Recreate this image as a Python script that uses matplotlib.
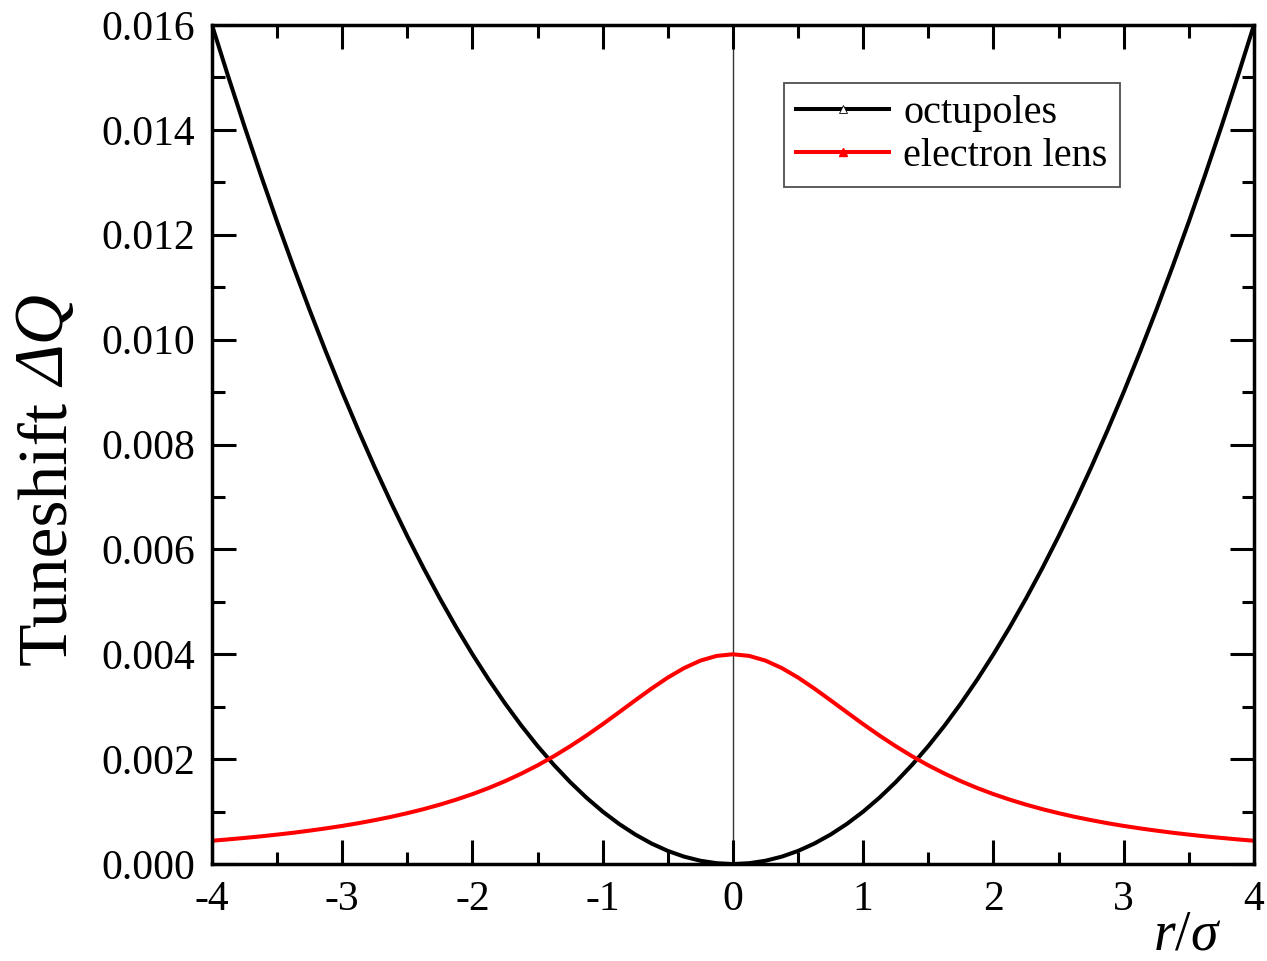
import matplotlib
matplotlib.use('Agg')
import matplotlib.pyplot as plt
from matplotlib.ticker import MultipleLocator, FormatStrFormatter

plt.rcParams['font.family'] = 'Liberation Serif'
plt.rcParams['mathtext.fontset'] = 'custom'
plt.rcParams['mathtext.rm'] = 'Liberation Serif'
plt.rcParams['mathtext.it'] = 'Liberation Serif:italic'

# r/sigma sample points
r = [-4.0, -3.875, -3.75, -3.625, -3.5, -3.375, -3.25, -3.125, -3.0, -2.875,
     -2.75, -2.625, -2.5, -2.375, -2.25, -2.125, -2.0, -1.875, -1.75, -1.625,
     -1.5, -1.375, -1.25, -1.125, -1.0, -0.875, -0.75, -0.625, -0.5, -0.375,
     -0.25, -0.125, 0.0, 0.125, 0.25, 0.375, 0.5, 0.625, 0.75, 0.875, 1.0,
     1.125, 1.25, 1.375, 1.5, 1.625, 1.75, 1.875, 2.0, 2.125, 2.25, 2.375,
     2.5, 2.625, 2.75, 2.875, 3.0, 3.125, 3.25, 3.375, 3.5, 3.625, 3.75,
     3.875, 4.0]

# tuneshift
octupoles = [0.016, 0.015016, 0.014063, 0.013141, 0.01225, 0.011391, 0.010563,
             0.009766, 0.009, 0.008266, 0.007563, 0.006891, 0.00625, 0.005641,
             0.005063, 0.004516, 0.004, 0.003516, 0.003063, 0.002641, 0.00225,
             0.001891, 0.001563, 0.001266, 0.001, 0.000766, 0.000563, 0.000391,
             0.00025, 0.000141, 0.000063, 0.000016, 0.0,
             0.000016, 0.000063, 0.000141, 0.00025, 0.000391, 0.000563,
             0.000766, 0.001, 0.001266, 0.001563, 0.001891, 0.00225, 0.002641,
             0.003063, 0.003516, 0.004, 0.004516, 0.005063, 0.005641, 0.00625,
             0.006891, 0.007563, 0.008266, 0.009, 0.009766, 0.010563, 0.011391,
             0.01225, 0.013141, 0.014063, 0.015016, 0.016]
electron_lens = [0.000444, 0.000470, 0.000498, 0.000528, 0.000561, 0.000597,
                 0.000637, 0.000680, 0.000727, 0.000779, 0.000837, 0.000900,
                 0.000970, 0.001047, 0.001133, 0.001228, 0.001333, 0.001450,
                 0.001580, 0.001724, 0.001882, 0.002056, 0.002246, 0.002450,
                 0.002667, 0.002893, 0.003122, 0.003346, 0.003556, 0.003737,
                 0.003879, 0.003969, 0.004,
                 0.003969, 0.003879, 0.003737, 0.003556, 0.003346, 0.003122,
                 0.002893, 0.002667, 0.002450, 0.002246, 0.002056, 0.001882,
                 0.001724, 0.001580, 0.001450, 0.001333, 0.001228, 0.001133,
                 0.001047, 0.000970, 0.000900, 0.000837, 0.000779, 0.000727,
                 0.000680, 0.000637, 0.000597, 0.000561, 0.000528, 0.000498,
                 0.000470, 0.000444]

W, H = 1267, 961
fig = plt.figure(figsize=(W / 100, H / 100), dpi=100)
ax = fig.add_axes([0.1673, 0.1009, 0.8224, 0.8731])

ax.axvline(0, color='#333333', lw=1.0, zorder=1)
ax.plot(r, octupoles, color='black', lw=2.9, marker='^', markevery=[],
        markersize=6, markerfacecolor='white', markeredgecolor='black',
        markeredgewidth=0.6, label='octupoles')
ax.plot(r, electron_lens, color='red', lw=2.9, marker='^', markevery=[],
        markersize=6, markerfacecolor='red', markeredgecolor='red',
        label='electron lens')

ax.set_xlim(-4, 4)
ax.set_ylim(0, 0.016)
ax.xaxis.set_major_locator(MultipleLocator(1))
ax.xaxis.set_minor_locator(MultipleLocator(0.5))
ax.yaxis.set_major_locator(MultipleLocator(0.002))
ax.yaxis.set_minor_locator(MultipleLocator(0.001))
ax.yaxis.set_major_formatter(FormatStrFormatter('%.3f'))
ax.xaxis.set_major_formatter(FormatStrFormatter('%d'))

ax.tick_params(which='both', direction='in', top=True, right=True,
               width=2.2, labelsize=30)
ax.tick_params(which='major', length=17, pad=12)
ax.tick_params(which='minor', length=9)
for s in ax.spines.values():
    s.set_linewidth(2.5)

# y label in two parts so that the delta can be italic
t1 = fig.text(0.038, 1 - 665 / H, 'Tuneshift', rotation=90, fontsize=50,
              ha='center', va='bottom')
fig.canvas.draw()
bb = t1.get_window_extent()
fig.text(0.038, (bb.y1 + 14) / H, 'ΔQ', rotation=90, fontsize=50,
         style='italic', ha='center', va='bottom')

fig.text(0.910, 0.012, '$\\mathit{r/σ}$', fontsize=40, ha='left',
         va='baseline')

leg = ax.legend(loc='upper right', bbox_to_anchor=(0.871, 0.931),
                fontsize=29, frameon=True, fancybox=False, edgecolor='#222222',
                handlelength=2.3, handletextpad=0.35, borderpad=0.3,
                labelspacing=0.15, borderaxespad=0)
leg.get_frame().set_linewidth(1.3)

fig.savefig('out.png', dpi=100)
